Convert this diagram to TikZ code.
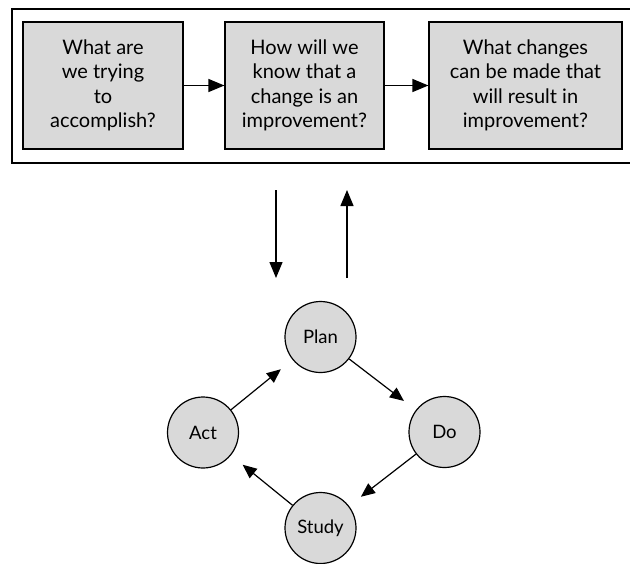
\documentclass[tikz,border=0pt]{standalone}
\usepackage{fontspec}
\setmainfont{Lato}
\usetikzlibrary{arrows.meta}
\definecolor{boxgray}{RGB}{217,217,217}
\begin{document}
\begin{tikzpicture}[x=1pt,y=-1pt,
  qbox/.style={draw, line width=1.2pt, fill=boxgray, minimum height=127pt, align=center,
    font=\fontsize{20}{24.5}\selectfont, inner sep=0pt},
  stage/.style={circle, draw, line width=1.2pt, fill=boxgray, minimum size=71pt, inner sep=0pt,
    font=\fontsize{18.5}{22}\selectfont},
  flow/.style={-{Triangle[length=16pt,width=13pt]}, line width=1.3pt},
  cyc/.style={-{Triangle[length=14pt,width=12pt]}, line width=1.2pt, shorten >=15pt}]
\useasboundingbox (0,0) rectangle (630,563);
\draw[line width=1.4pt] (12,9) rectangle (645,163);
\node[qbox, minimum width=160pt] (q1) at (103,85.5) {What are\\we trying\\to\\accomplish?};
\node[qbox, minimum width=159pt] (q2) at (304.5,85.5) {How will we\\know that a\\change is an\\improvement?};
\node[qbox, minimum width=193pt] (q3) at (525.5,85.5) {What changes\\can be made that\\will result in\\improvement?};
\draw[flow] (q1) -- (q2);
\draw[flow] (q2) -- (q3);
\coordinate (dtop) at (276,190);
\coordinate (dbot) at (276,278);
\coordinate (ubot) at (347,278);
\coordinate (utop) at (347,190);
\draw[flow] (dtop) -- (dbot);
\draw[flow] (ubot) -- (utop);
\node[stage] (plan) at (320.5,337) {Plan};
\node[stage] (act) at (203,432.5) {Act};
\node[stage] (do) at (444.5,432) {Do};
\node[stage] (study) at (320.5,528) {Study};
\draw[cyc] (plan) -- (do);
\draw[cyc] (do) -- (study);
\draw[cyc] (study) -- (act);
\draw[cyc] (act) -- (plan);
\end{tikzpicture}
\end{document}
